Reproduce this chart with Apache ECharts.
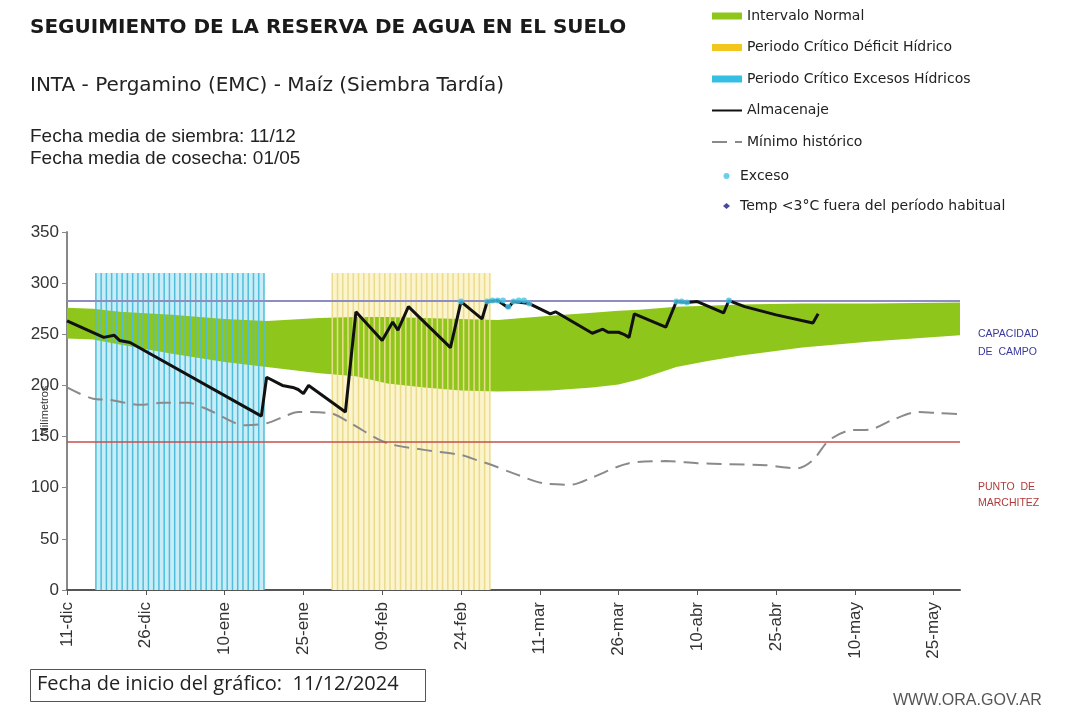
<!DOCTYPE html>
<html>
<head>
<meta charset="utf-8">
<title>Seguimiento de la reserva de agua en el suelo</title>
<script src="https://cdn.jsdelivr.net/npm/echarts@6/dist/echarts.min.js"></script>
<style>
  html, body { margin: 0; padding: 0; background: #fff; }
  #chart { width: 1065px; height: 727px; }
</style>
</head>
<body>
<div id="chart"></div>
<script>
// eje x en días contados desde el 11/12
const tickDays = [0, 15, 30, 45, 60, 75, 90, 105, 120, 135, 150, 165];
const tickLabels = ['11-dic', '26-dic', '10-ene', '25-ene', '09-feb', '24-feb',
  '11-mar', '26-mar', '10-abr', '25-abr', '10-may', '25-may'];

const capacidadCampo = 283;
const puntoMarchitez = 145;

// intervalo normal (banda verde)
const bandDays  = [0, 5, 10, 20, 30, 38, 48, 55, 61, 68, 75, 82, 92, 100, 105, 109, 116, 122, 128, 140, 153, 170];
const bandLower = [246, 245, 240, 231, 223, 218, 212, 209, 202, 198, 195, 194, 195, 198, 201, 206, 218, 224, 229, 237, 243, 249];
const bandUpper = [276, 275, 272, 269, 265, 263, 266, 267, 267, 266, 265, 264, 268, 271, 273, 274, 277, 278, 279, 280, 280, 281];

// periodos críticos [inicio, fin, alto]
const periodoExcesos = [5.5, 37.5, 310];
const periodoDeficit = [50.5, 80.5, 310];

const almacenaje = [
  [0, 263], [7, 247], [9, 249], [10, 244], [12, 242], [37, 170], [38, 208], [41, 200],
  [43, 198], [44, 196], [45, 192], [46, 200], [53, 174], [55, 272], [60, 244], [62, 262],
  [63, 254], [65, 277], [73, 237], [75, 282], [79, 265], [80, 282], [82, 283], [84, 276],
  [85, 282], [88, 280], [92, 270], [93, 272], [100, 251], [102, 255], [103, 252], [105, 252],
  [106, 250], [107, 247], [108, 270], [114, 257], [116, 282], [118, 281], [120, 282],
  [125, 271], [126, 283], [129, 277], [135, 269], [142, 261], [143, 270]
];

const minimoHistorico = [
  [0, 198], [5, 187], [8, 186], [14, 181], [18, 183], [23, 183], [27, 176], [34, 161],
  [38, 163], [42, 171], [44, 174], [50, 173], [54, 163], [59, 148], [62, 142], [68, 137],
  [75, 132], [78, 127], [81, 122], [85, 114], [91, 104], [96, 103], [100, 110], [107, 124],
  [114, 126], [120, 124], [126, 123], [133, 122], [139, 119], [142, 127], [145, 146],
  [149, 156], [153, 157], [157, 166], [162, 174], [166, 173], [170, 172]
];

const exceso = [
  [75, 282], [80, 282], [81, 283], [82, 283], [83, 283], [84, 277], [85, 282], [86, 283],
  [87, 283], [88, 280], [116, 282], [117, 282], [118, 281], [126, 283]
];

const GREEN = '#8fc61c';

function periodFill(fill) {
  return function (params, api) {
    const p0 = api.coord([api.value(0), 0]);
    const p1 = api.coord([api.value(1), api.value(2)]);
    return {
      type: 'rect',
      shape: { x: p0[0], y: p1[1], width: p1[0] - p0[0], height: p0[1] - p1[1] },
      style: { fill: fill }
    };
  };
}

function periodStripes(stroke) {
  return function (params, api) {
    const children = [];
    for (let d = api.value(0); d <= api.value(1) + 0.01; d++) {
      const a = api.coord([d, 0]);
      const b = api.coord([d, api.value(2)]);
      children.push({
        type: 'line',
        shape: { x1: a[0], y1: a[1], x2: b[0], y2: b[1] },
        style: { stroke: stroke, lineWidth: 1.5 }
      });
    }
    return { type: 'group', children: children };
  };
}

// banda completa como un solo polígono
function bandPolygon(params, api) {
  if (params.dataIndex !== 0) return null;
  const pts = [];
  for (let i = 0; i < bandDays.length; i++) pts.push(api.coord([bandDays[i], bandUpper[i]]));
  for (let i = bandDays.length - 1; i >= 0; i--) pts.push(api.coord([bandDays[i], bandLower[i]]));
  return { type: 'polygon', shape: { points: pts }, style: { fill: GREEN } };
}

const chart = echarts.init(document.getElementById('chart'));

const legendText = { fontFamily: 'DejaVu Sans', fontSize: 14, color: '#222' };

chart.setOption({
  animation: false,
  backgroundColor: '#fff',
  grid: { left: 67, right: 105, top: 232, bottom: 137 },
  legend: [
    {
      orient: 'vertical', left: 706, top: 4,
      itemWidth: 30, itemHeight: 7, itemGap: 17.5,
      textStyle: legendText,
      data: [
        { name: 'Intervalo Normal', icon: 'rect', itemStyle: { color: GREEN } },
        { name: 'Periodo Crítico Déficit Hídrico', icon: 'rect', itemStyle: { color: '#f1c61e' } },
        { name: 'Periodo Crítico Excesos Hídricos', icon: 'rect', itemStyle: { color: '#35bfe2' } },
        { name: 'Almacenaje', itemStyle: { opacity: 0 } },
        { name: 'Mínimo histórico', itemStyle: { opacity: 0 } }
      ]
    },
    {
      orient: 'vertical', left: 718, top: 164,
      itemWidth: 7, itemHeight: 6, itemGap: 16,
      textStyle: Object.assign({ padding: [0, 0, 0, 5] }, legendText),
      data: [
        { name: 'Exceso', icon: 'circle' },
        { name: 'Temp <3°C fuera del período habitual', icon: 'diamond' }
      ]
    }
  ],
  xAxis: {
    type: 'value', min: 0, max: 170,
    axisLine: { lineStyle: { color: '#555', width: 2 } },
    axisTick: { show: true, length: 5, customValues: tickDays, lineStyle: { color: '#555' } },
    splitLine: { show: false },
    axisLabel: {
      customValues: tickDays,
      rotate: 90, margin: 12,
      fontFamily: 'Liberation Sans', fontSize: 17, color: '#333',
      formatter: function (v) { return tickLabels[tickDays.indexOf(v)] || ''; }
    }
  },
  yAxis: {
    type: 'value', min: 0, max: 350, interval: 50,
    name: 'Milímetros', nameLocation: 'middle', nameGap: 17, nameMoveOverlap: false,
    nameTextStyle: { fontFamily: 'Liberation Sans', fontSize: 11, color: '#333' },
    axisLine: { show: true, lineStyle: { color: '#888', width: 2 } },
    axisTick: { show: true, length: 5, lineStyle: { color: '#888' } },
    splitLine: { show: false },
    axisLabel: { margin: 8, fontFamily: 'Liberation Sans', fontSize: 17, color: '#333' }
  },
  series: [
    {
      name: 'fondoExcesos', type: 'custom', z: 1, silent: true,
      renderItem: periodFill('#c9edf6'),
      encode: { x: [0, 1], y: 2 },
      data: [periodoExcesos]
    },
    {
      name: 'fondoDeficit', type: 'custom', z: 1, silent: true,
      renderItem: periodFill('#fbf4cc'),
      encode: { x: [0, 1], y: 2 },
      data: [periodoDeficit]
    },
    {
      name: 'Intervalo Normal', type: 'custom', z: 2, silent: true,
      renderItem: bandPolygon,
      itemStyle: { color: GREEN },
      encode: { x: 0, y: [1, 2] },
      data: bandDays.map(function (d, i) { return [d, bandLower[i], bandUpper[i]]; })
    },
    {
      name: 'Periodo Crítico Excesos Hídricos', type: 'custom', z: 3, silent: true,
      renderItem: periodStripes('#4dbfdd'),
      encode: { x: [0, 1], y: 2 },
      data: [periodoExcesos]
    },
    {
      name: 'Periodo Crítico Déficit Hídrico', type: 'custom', z: 3, silent: true,
      renderItem: periodStripes('#eadc8c'),
      encode: { x: [0, 1], y: 2 },
      data: [periodoDeficit]
    },
    {
      name: 'Mínimo histórico', type: 'line', z: 4,
      symbol: 'none', smooth: 0.3,
      lineStyle: { color: '#8a8a8a', width: 2, type: [15, 8] },
      itemStyle: { color: '#8a8a8a' },
      data: minimoHistorico,
      markLine: {
        silent: true, symbol: 'none', label: { show: false },
        data: [
          { yAxis: capacidadCampo, lineStyle: { color: '#8d8dc4', width: 2, type: 'solid' } },
          { yAxis: puntoMarchitez, lineStyle: { color: '#c0504d', width: 1.5, type: 'solid' } }
        ]
      }
    },
    {
      name: 'Almacenaje', type: 'line', z: 5,
      symbol: 'none',
      lineStyle: { color: '#111', width: 3 },
      itemStyle: { color: '#111' },
      data: almacenaje
    },
    {
      name: 'Exceso', type: 'scatter', z: 6,
      symbol: 'circle', symbolSize: 6,
      itemStyle: { color: '#45c3e6' },
      data: exceso
    },
    {
      name: 'Temp <3°C fuera del período habitual', type: 'scatter', z: 6,
      symbol: 'diamond', symbolSize: 7,
      itemStyle: { color: '#1c1c8a' },
      data: []
    }
  ],
  graphic: [
    { type: 'text', left: 30, top: 18, style: { text: 'SEGUIMIENTO DE LA RESERVA DE AGUA EN EL SUELO', font: 'bold 20px "DejaVu Sans"', fill: '#1a1a1a' } },
    { type: 'text', left: 30, top: 76, style: { text: 'INTA - Pergamino (EMC) - Maíz (Siembra Tardía)', font: '20px "DejaVu Sans"', fill: '#222' } },
    { type: 'text', left: 30, top: 127, style: { text: 'Fecha media de siembra: 11/12', font: '19px "Liberation Sans"', fill: '#222' } },
    { type: 'text', left: 30, top: 149, style: { text: 'Fecha media de cosecha: 01/05', font: '19px "Liberation Sans"', fill: '#222' } },
    { type: 'text', left: 978, top: 325, style: { text: 'CAPACIDAD\nDE  CAMPO', font: '10.5px "Liberation Sans"', fill: '#3a3a9c', lineHeight: 18 } },
    { type: 'text', left: 978, top: 479, style: { text: 'PUNTO  DE\nMARCHITEZ', font: '10.5px "Liberation Sans"', fill: '#b03a3a', lineHeight: 16 } },
    { type: 'rect', left: 30, top: 669, shape: { width: 395, height: 32 }, style: { fill: '#fff', stroke: '#555', lineWidth: 1 } },
    { type: 'text', left: 37, top: 674, style: { text: 'Fecha de inicio del gráfico:  11/12/2024', font: '20px "Open Sans"', fill: '#222' } },
    { type: 'text', left: 893, top: 693, style: { text: 'WWW.ORA.GOV.AR', font: '16px "Liberation Sans"', fill: '#555' } }
  ]
});
</script>
</body>
</html>
